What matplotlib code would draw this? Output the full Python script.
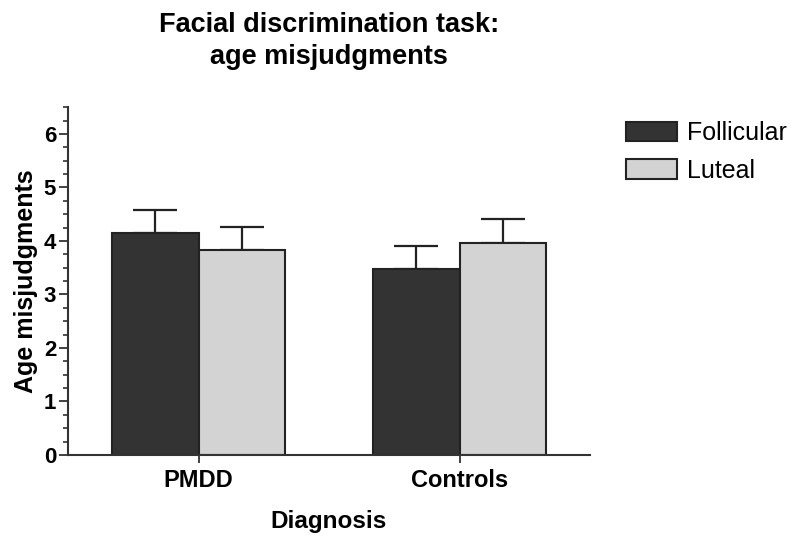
import numpy as np
import matplotlib
matplotlib.use("Agg")
import matplotlib.pyplot as plt
from matplotlib.ticker import MultipleLocator

plt.rcParams['font.family'] = ['Liberation Sans', 'DejaVu Sans']

# data
groups = ["PMDD", "Controls"]
series = ["Follicular", "Luteal"]
follicular = [4.15, 3.48]
luteal = [3.84, 3.96]
follicular_err = [0.43, 0.43]
luteal_err = [0.42, 0.45]
colors = ["#333333", "#d3d3d3"]

fig = plt.figure(figsize=(8, 5.44), dpi=100)
ax = fig.add_axes([0.085, 0.1636, 0.6525, 0.6394])

x = np.arange(len(groups))
w = 0.333
edge = "#222222"
for vals, errs, col, lab, sign in [(follicular, follicular_err, colors[0], series[0], -1),
                                   (luteal, luteal_err, colors[1], series[1], 1)]:
    pos = x + sign * w / 2
    ax.bar(pos, vals, width=w, color=col, edgecolor=edge, linewidth=1.5, label=lab, zorder=2)
    ax.errorbar(pos, vals, yerr=[np.zeros(len(vals)), errs], fmt="none",
                ecolor=edge, elinewidth=1.6, capsize=15.5, capthick=1.6, zorder=1)

ax.set_xlim(-0.5, 1.5)
ax.set_ylim(0, 6.5)
ax.yaxis.set_major_locator(MultipleLocator(1))
ax.yaxis.set_minor_locator(MultipleLocator(0.25))
ax.set_xticks(x)
ax.set_xticklabels(groups, fontsize=17, fontweight="bold")
for t in ax.get_yticklabels():
    t.set_fontsize(16)
    t.set_fontweight("bold")

for s in ["top", "right"]:
    ax.spines[s].set_visible(False)
for s in ["left", "bottom"]:
    ax.spines[s].set_linewidth(1.5)
    ax.spines[s].set_color("#333333")
ax.tick_params(axis="y", which="major", length=6.5, width=1.3, color="#333333", pad=2)
ax.tick_params(axis="y", which="minor", length=3.5, width=1.2, color="#333333")
ax.tick_params(axis="x", which="major", length=6, width=1.3, color="#333333", pad=4)

ax.set_ylabel("Age misjudgments", fontsize=18, fontweight="bold", labelpad=4)
ax.set_xlabel("Diagnosis", fontsize=17.5, fontweight="bold", labelpad=13)
ax.set_title("Facial discrimination task:\nage misjudgments", fontsize=19.5,
             fontweight="bold", pad=31, linespacing=1.32)

fig.legend(loc="upper left", bbox_to_anchor=(0.754, 0.819), frameon=False,
           fontsize=18, handlelength=2.05, handleheight=0.8, handletextpad=0.4,
           labelspacing=0.55)

fig.savefig("out.png", dpi=100)
